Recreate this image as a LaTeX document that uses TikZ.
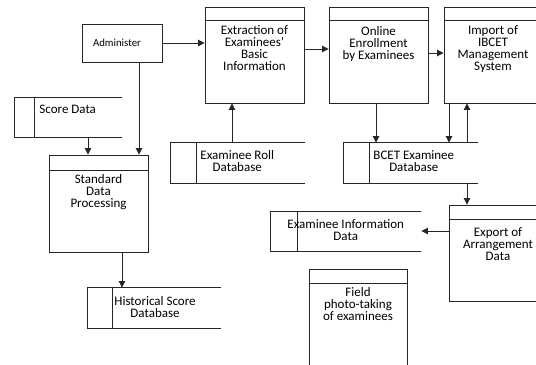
\documentclass[tikz,border=0pt]{standalone}
\usepackage{fontspec}
\setmainfont{Carlito}
\usetikzlibrary{arrows.meta,calc}
\begin{document}
\begin{tikzpicture}[x=1bp,y=-1bp,
  line width=0.9bp,
  ln/.style={draw=black!85,line width=0.9bp},
  proc/.style={draw=black!85,line width=0.9bp,rectangle,inner sep=0pt,minimum width=99bp,minimum height=96bp},
  storenode/.style={rectangle,inner sep=0pt,draw=none},
  txt/.style={inner sep=0pt,align=center,font=\fontsize{13bp}{12bp}\selectfont,text=black},
  arr/.style={-{Triangle[length=6.5bp,width=6.5bp]},draw=black!85,fill=black!85,line width=0.9bp}]
\useasboundingbox (0,0) rectangle (536,364);
\fill[white] (0,0) rectangle (536,364);
\clip (0,0) rectangle (536,364);

% Process boxes
\node[proc,minimum width=80bp,minimum height=38bp] (admin) at (122,43) {};
\node[inner sep=0pt,font=\fontsize{10.8bp}{12bp}\selectfont] (adminT) at (117,43) {Administer};

\node[proc] (extr) at (254.5,55) {};
\draw[ln] (extr.north west) ++(0,14) -- ++(99,0);
\node[txt,anchor=north] (extrT) at (254.5,24.7) {Extraction of\\Examinees'\\Basic\\Information};

\node[proc] (onl) at (378.5,55) {};
\draw[ln] (onl.north west) ++(0,14) -- ++(99,0);
\node[txt,anchor=north] (onlT) at (378.5,25.7) {Online\\Enrollment\\by Examinees};

\node[proc,minimum width=98bp] (imp) at (493,55) {};
\draw[ln] (imp.north west) ++(0,14) -- ++(98,0);
\node[txt,anchor=north] (impT) at (493,24.7) {Import of\\IBCET\\Management\\System};

\node[proc,minimum height=97bp] (std) at (98.5,203.5) {};
\draw[ln] (std.north west) ++(0,16) -- ++(99,0);
\node[txt,anchor=north] (stdT) at (98.5,173.7) {Standard\\Data\\Processing};

\node[proc,minimum width=98bp] (exp) at (498,253) {};
\draw[ln] (exp.north west) ++(0,15) -- ++(98,0);
\node[txt,anchor=north] (expT) at (498,226.7) {Export of\\Arrangement\\Data};

\node[proc,minimum width=98bp,minimum height=110bp] (field) at (358,324) {};
\draw[ln] (field.north west) ++(0,15) -- ++(98,0);
\node[txt,anchor=north] (fieldT) at (358,286.7) {Field\\photo-taking\\of examinees};

% Data stores
\node[storenode,minimum width=107bp,minimum height=39bp] (score) at (68.5,117.5) {};
\draw[ln] (score.north east) -- (score.north west) -- (score.south west) -- (score.south east);
\draw[ln] (score.north west) ++(20,0) -- ++(0,39);
\node[txt,anchor=north west] (scoreT) at (39,104.7) {Score Data};

\node[storenode,minimum width=134bp,minimum height=40bp] (roll) at (238,163) {};
\draw[ln] (roll.north east) -- (roll.north west) -- (roll.south west) -- (roll.south east);
\draw[ln] (roll.north west) ++(26,0) -- ++(0,40);
\node[txt,anchor=north west] (rollT) at (200,149.7) {Examinee Roll\\Database};

\node[storenode,minimum width=134bp,minimum height=40bp] (bcet) at (411,163) {};
\draw[ln] (bcet.north east) -- (bcet.north west) -- (bcet.south west) -- (bcet.south east);
\draw[ln] (bcet.north west) ++(26,0) -- ++(0,40);
\node[txt,anchor=north west] (bcetT) at (373,149.7) {BCET Examinee\\Database};

\node[storenode,minimum width=150bp,minimum height=39bp] (info) at (346,231.5) {};
\draw[ln] (info.north east) -- (info.north west) -- (info.south west) -- (info.south east);
\draw[ln] (info.north west) ++(27,0) -- ++(0,39);
\node[txt,anchor=north west] (infoT) at (287,218.7) {Examinee Information\\Data};

\node[storenode,minimum width=133bp,minimum height=40bp] (hist) at (154.5,308) {};
\draw[ln] (hist.north east) -- (hist.north west) -- (hist.south west) -- (hist.south east);
\draw[ln] (hist.north west) ++(25,0) -- ++(0,40);
\node[txt,anchor=north west] (histT) at (114,295.7) {Historical Score\\Database};

% Connector x/y helpers
\coordinate (xa) at (88,0);
\coordinate (xb) at (139,0);
\coordinate (xc) at (232,0);
\coordinate (xd) at (376,0);
\coordinate (xe) at (449,0);
\coordinate (xf) at (467,0);
\coordinate (xg) at (122,0);
\coordinate (ya) at (0,49);
\coordinate (yb) at (0,53);
\coordinate (yc) at (0,231);

% Connectors
\draw[arr] (admin.east) -- (admin.east -| extr.west);
\draw[arr] (extr.east |- ya) -- (onl.west |- ya);
\draw[arr] (onl.east |- yb) -- (imp.west |- yb);
\draw[arr] (xa |- score.south) -- (xa |- std.north);
\draw[arr] (xb |- admin.south) -- (xb |- std.north);
\draw[arr] (xc |- roll.north) -- (xc |- extr.south);
\draw[arr] (xd |- onl.south) -- (xd |- bcet.north);
\draw[arr] (xe |- imp.south) -- (xe |- bcet.north);
\draw[arr] (xf |- bcet.north) -- (xf |- imp.south);
\draw[arr] (xf |- bcet.south) -- (xf |- exp.north);
\draw[arr] (exp.west |- yc) -- (info.east |- yc);
\draw[arr] (xg |- std.south) -- (xg |- hist.north);
\end{tikzpicture}
\end{document}
